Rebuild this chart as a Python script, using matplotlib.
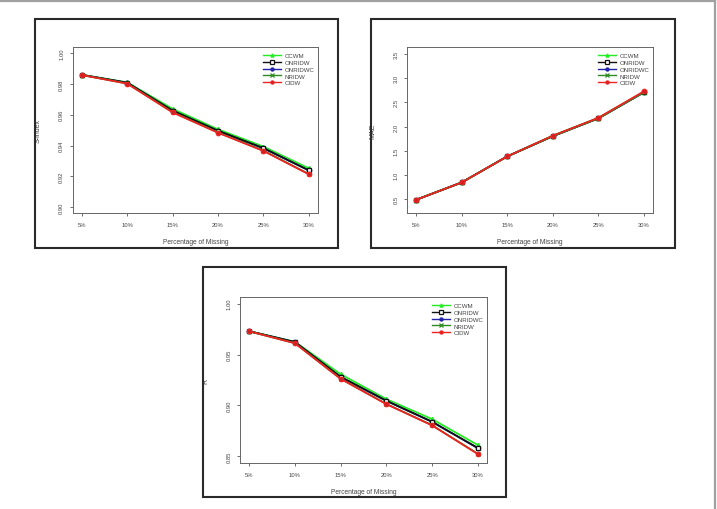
import matplotlib
matplotlib.use("Agg")
import matplotlib.pyplot as plt
from matplotlib.patches import Rectangle
from matplotlib.lines import Line2D

plt.rcParams['font.family'] = ['Liberation Sans', 'DejaVu Sans']

categories = ["5%", "10%", "15%", "20%", "25%", "30%"]
series_names = ["CCWM", "ONRIDW", "ONRIDWC", "NRIDW", "CIDW"]

sindex_ccwm = [0.9860, 0.9810, 0.9638, 0.9505, 0.9393, 0.9252]
sindex_onridw = [0.9859, 0.9808, 0.9627, 0.9496, 0.9383, 0.9239]
sindex_onridwc = [0.9859, 0.9808, 0.9626, 0.9495, 0.9382, 0.9238]
sindex_nridw = [0.9858, 0.9803, 0.9617, 0.9485, 0.9367, 0.9215]
sindex_cidw = [0.9858, 0.9802, 0.9615, 0.9483, 0.9365, 0.9213]

mae_ccwm = [0.48, 0.84, 1.38, 1.81, 2.18, 2.72]
mae_onridw = [0.48, 0.84, 1.38, 1.80, 2.17, 2.71]
mae_onridwc = [0.48, 0.84, 1.38, 1.80, 2.17, 2.71]
mae_nridw = [0.48, 0.84, 1.38, 1.80, 2.17, 2.71]
mae_cidw = [0.48, 0.84, 1.38, 1.81, 2.18, 2.73]

r_ccwm = [0.9730, 0.9625, 0.9307, 0.9062, 0.8866, 0.8611]
r_onridw = [0.9729, 0.9623, 0.9281, 0.9046, 0.8840, 0.8582]
r_onridwc = [0.9729, 0.9622, 0.9280, 0.9045, 0.8839, 0.8581]
r_nridw = [0.9728, 0.9612, 0.9263, 0.9015, 0.8806, 0.8525]
r_cidw = [0.9728, 0.9611, 0.9261, 0.9013, 0.8804, 0.8523]

sindex_ticks = [0.90, 0.92, 0.94, 0.96, 0.98, 1.00]
mae_ticks = [0.5, 1.0, 1.5, 2.0, 2.5, 3.0, 3.5]
r_ticks = [0.85, 0.90, 0.95, 1.00]

styles = [
    dict(color="#22ee22", marker="^", mfc="#22ee22", mec="#22ee22", zorder=2.0),
    dict(color="#111111", marker="s", mfc="white", mec="#111111", zorder=2.2),
    dict(color="#2222aa", marker="o", mfc="#2222aa", mec="#2222aa", zorder=2.1),
    dict(color="#2e8b22", marker="x", mfc="#2e8b22", mec="#2e8b22", zorder=2.3),
    dict(color="#ee2222", marker="o", mfc="#cc2222", mec="#ee2222", zorder=2.4),
]

W, H = 717, 510
fig = plt.figure(figsize=(W / 100, H / 100), dpi=100)
fig.patch.set_facecolor("white")


def px_axes(left, top, right, bottom):
    return fig.add_axes([left / W, 1 - bottom / H, (right - left) / W, (bottom - top) / H])


def frame(left, top, right, bottom):
    fig.patches.append(Rectangle((left / W, 1 - bottom / H), (right - left) / W, (bottom - top) / H,
                                 transform=fig.transFigure, fill=False, edgecolor="#2a2a2a",
                                 linewidth=1.5, zorder=0))


# outer frame lines (top and right)
fig.add_artist(Line2D([0, 714.5 / W], [1 - 1.5 / H, 1 - 1.5 / H], transform=fig.transFigure,
                      color="#a0a0a0", lw=1.6))
fig.add_artist(Line2D([714.5 / W, 714.5 / W], [0, 1 - 1.5 / H], transform=fig.transFigure,
                      color="#a0a0a0", lw=1.6))

frame(35, 20, 338, 249)
frame(371, 20, 675, 249)
frame(203, 268, 506, 498)

panels = [
    dict(box=(72.7, 48, 318, 214.3), data=[sindex_ccwm, sindex_onridw, sindex_onridwc, sindex_nridw, sindex_cidw],
         ticks=sindex_ticks, fmt="{:.2f}", ylim=(0.896, 1.004), ylabel="S-index"),
    dict(box=(407, 48, 653, 214.3), data=[mae_ccwm, mae_onridw, mae_onridwc, mae_nridw, mae_cidw],
         ticks=mae_ticks, fmt="{:.1f}", ylim=(0.20, 3.65), ylabel="MAE"),
    dict(box=(240, 298, 487, 464), data=[r_ccwm, r_onridw, r_onridwc, r_nridw, r_cidw],
         ticks=r_ticks, fmt="{:.2f}", ylim=(0.8435, 1.0065), ylabel="R"),
]

xs = list(range(1, len(categories) + 1))
for p in panels:
    ax = px_axes(*p["box"])
    for name, vals, st in zip(series_names, p["data"], styles):
        ax.plot(xs, vals, label=name, lw=1.3, ms=3.2, mew=0.9, **st)
    ax.set_xlim(0.8, 6.2)
    ax.set_ylim(*p["ylim"])
    ax.set_xticks(xs)
    ax.set_xticklabels(categories)
    ax.set_yticks(p["ticks"])
    ax.set_yticklabels([p["fmt"].format(t) for t in p["ticks"]], rotation=90, va="center")
    ax.tick_params(length=2.2, width=0.6, color="#555555", labelsize=4.2, labelcolor="#444444", pad=4)
    for s in ax.spines.values():
        s.set_color("#666666")
        s.set_linewidth(0.7)
    ax.set_xlabel("Percentage of Missing", fontsize=4.8, color="#444444")
    ax.set_ylabel(p["ylabel"], fontsize=5.0, color="#444444")
    ax.xaxis.set_label_coords(0.5, -0.15)
    ax.yaxis.set_label_coords(-0.125, 0.5)
    leg = ax.legend(loc="upper right", bbox_to_anchor=(0.985, 0.965), frameon=False, fontsize=4.4,
                    handlelength=3.0, handletextpad=0.5, labelspacing=0.25, borderaxespad=0.0,
                    borderpad=0.0, markerscale=0.7)
    for line in leg.get_lines():
        line.set_linewidth(1.0)
    for t in leg.get_texts():
        t.set_color("#444444")

fig.savefig("out.png", dpi=100, facecolor="white")
